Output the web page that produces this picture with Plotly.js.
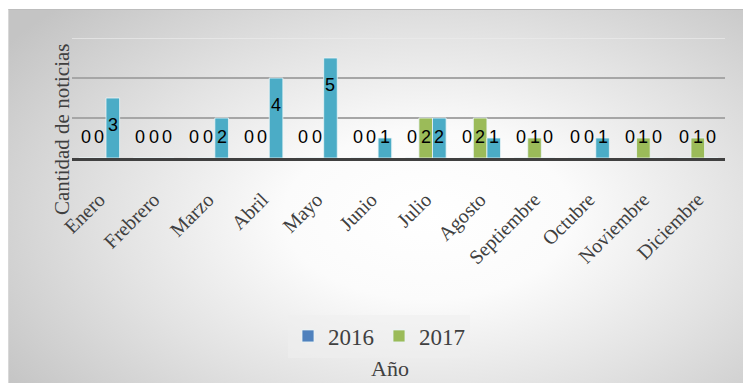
<!DOCTYPE html>
<html>
<head>
<meta charset="utf-8">
<script src="https://cdn.plot.ly/plotly-3.0.1.min.js"></script>
<style>
html,body{margin:0;padding:0;background:#ffffff;}
#bg{position:absolute;left:8px;top:9px;width:735px;height:374px;
 border-top:1px solid #bdbdbd;border-left:1px solid #d8d8d8;
 background:radial-gradient(ellipse 70% 80% at 57% 55%, #ffffff 0%, #fbfbfb 28%, #e2e2e2 62%, #c4c4c4 100%);}
#chart{position:absolute;left:0;top:0;width:743px;height:383px;}
</style>
</head>
<body>
<div id="bg"></div>
<div id="chart"></div>
<script>
const months = ["Enero","Frebrero","Marzo","Abril","Mayo","Junio","Julio","Agosto","Septiembre","Octubre","Noviembre","Diciembre"];
const serieA = [0,0,0,0,0,0,0,0,0,0,0,0];   // 2016
const serieB = [0,0,0,0,0,0,2,2,1,0,1,1];   // 2017
const serieC = [3,0,2,4,5,1,2,1,0,1,0,0];
const names = ["2016","2017",""];
const colors = ["#4F81BD","#9BBB59","#4BACC6"];

const series = [serieA, serieB, serieC];
const traces = series.map((vals,i)=>({
  type:"bar", x:months, y:vals, name:names[i],
  showlegend: i<2,
  marker:{color:colors[i], line:{color:"rgba(235,245,248,0.8)", width:1}},
  hoverinfo:"skip"
}));

const W=743, H=383, mL=72, mR=18, mT=38, mB=225;
const bargap=0.25;
const plotW=W-mL-mR;
const barW=plotW/months.length*(1-bargap)/3;

const annotations=[];
series.forEach((vals,i)=>{
  vals.forEach((v,j)=>{
    annotations.push({
      x:months[j], y:Math.max(1.05, v-1.33), xref:"x", yref:"y",
      text:String(v), showarrow:false, xshift:(i-1)*barW,
      font:{family:"Liberation Sans, Arial, sans-serif", size:18, color:"#000000"}
    });
  });
});
annotations.push({
  text:"Cantidad de noticias", xref:"paper", yref:"paper",
  x:-10/plotW, y:(158-130)/120, textangle:-90, showarrow:false,
  xanchor:"center", yanchor:"middle",
  font:{family:"Liberation Serif, Times New Roman, serif", size:21, color:"#404040"}
});
annotations.push({
  text:"Año", xref:"paper", yref:"paper",
  x:(390-mL)/plotW, y:(158-368)/120, showarrow:false,
  xanchor:"center", yanchor:"middle",
  font:{family:"Liberation Serif, Times New Roman, serif", size:22, color:"#404040"}
});

const layout={
  width:W, height:H,
  margin:{l:mL, r:mR, t:mT, b:mB, pad:0},
  paper_bgcolor:"rgba(0,0,0,0)", plot_bgcolor:"rgba(0,0,0,0)",
  barmode:"group", bargap:bargap, bargroupgap:0,
  xaxis:{
    type:"category", tickangle:-45, showline:true, linecolor:"#404040", linewidth:3,
    ticks:"", ticklabelstandoff:19, showgrid:false, zeroline:false,
    tickfont:{family:"Liberation Serif, Times New Roman, serif", size:20, color:"#404040"}
  },
  yaxis:{
    range:[0,6], tickvals:[0,2,4], showticklabels:false, ticks:"",
    showgrid:true, gridcolor:"#a6a6a6", gridwidth:1.5, zeroline:false, showline:false
  },
  shapes:[{type:"line", xref:"paper", yref:"y", x0:0, x1:1, y0:6, y1:6,
    line:{color:"rgba(236,236,236,0.9)", width:1.5}}],
  legend:{
    orientation:"h", x:(379-mL)/plotW, y:(158-336)/120, xanchor:"center", yanchor:"middle",
    bgcolor:"rgba(238,238,238,0.55)",
    font:{family:"Liberation Serif, Times New Roman, serif", size:23, color:"#404040"},
    itemwidth:30, traceorder:"normal"
  },
  annotations:annotations,
  showlegend:true
};

Plotly.newPlot("chart", traces, layout, {displayModeBar:false, staticPlot:true});
</script>
</body>
</html>
